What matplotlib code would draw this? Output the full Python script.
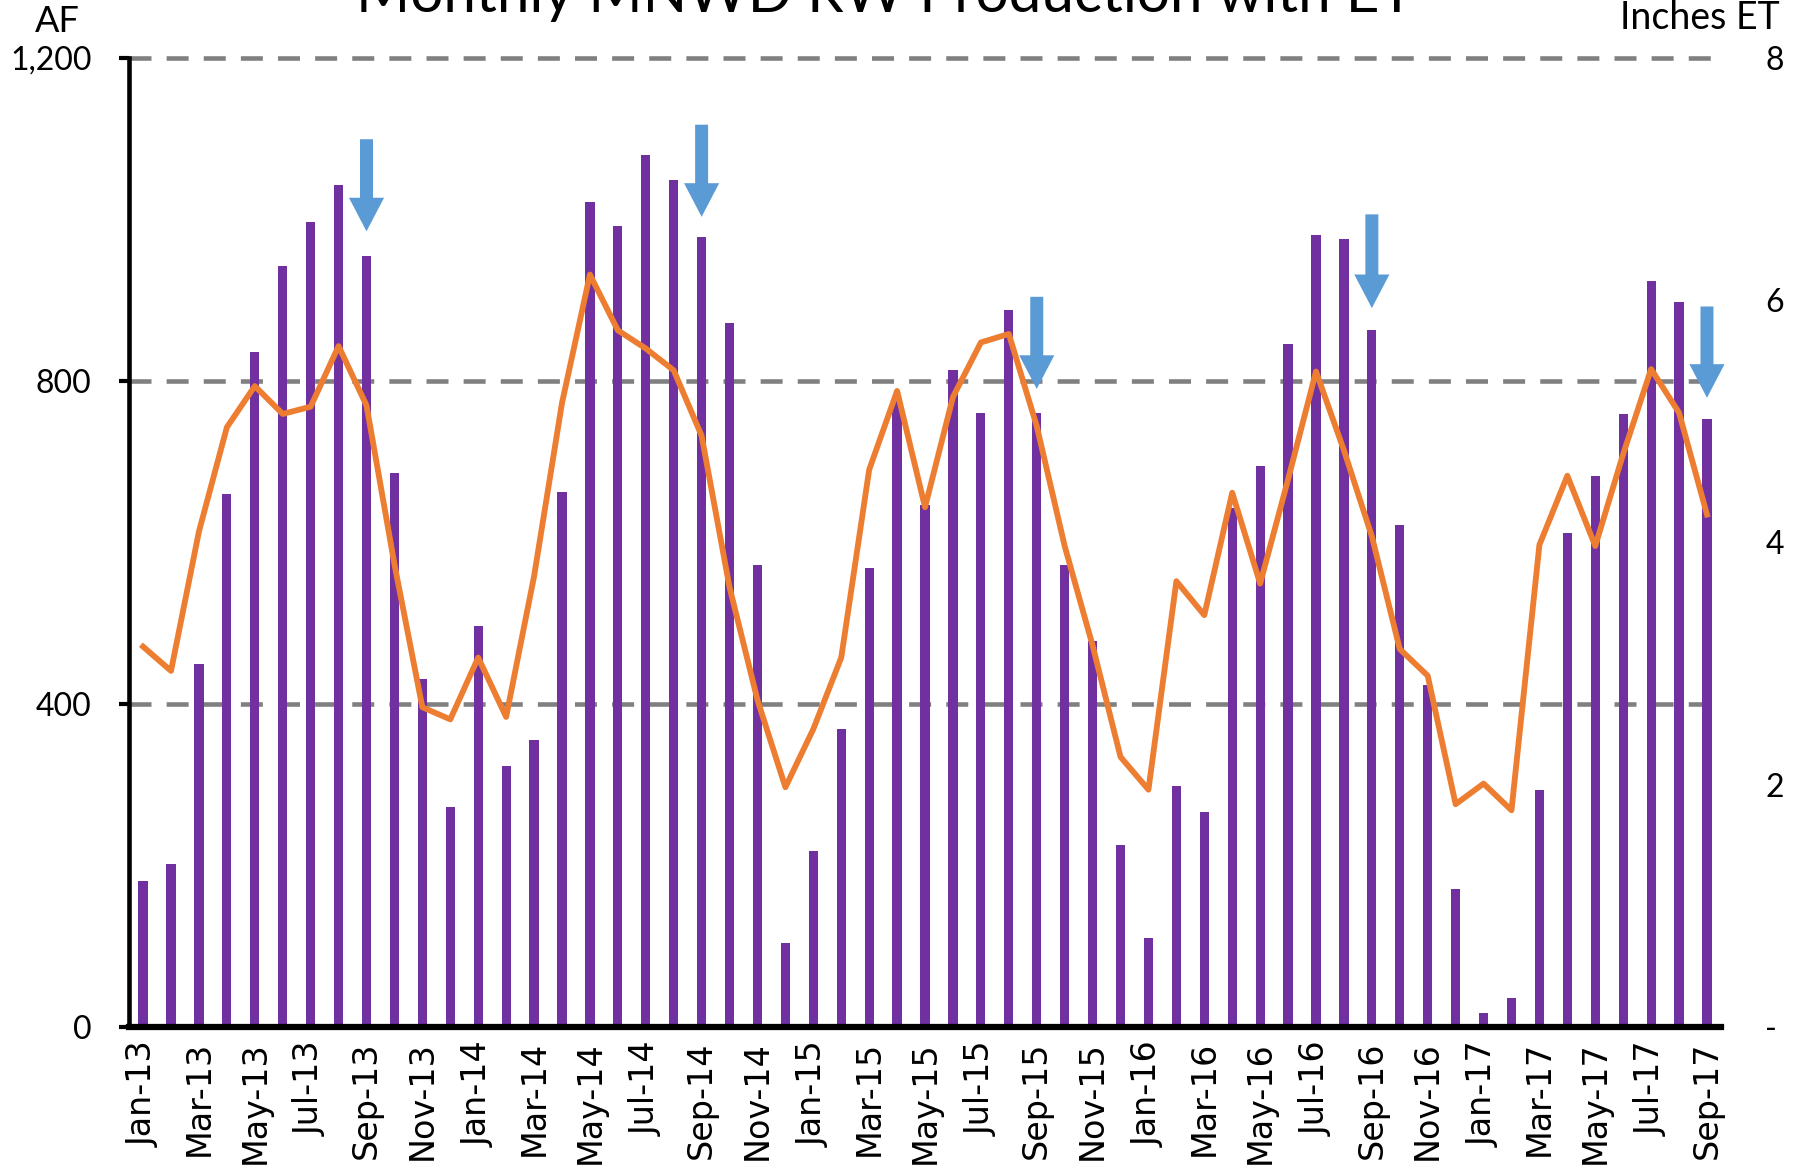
import numpy as np
import pandas as pd
import matplotlib
matplotlib.use('Agg')
import matplotlib.pyplot as plt
from matplotlib.ticker import FuncFormatter

# month labels Jan-13 .. Sep-17
months = pd.date_range('2013-01-01', '2017-09-01', freq='MS').strftime('%b-%y').tolist()

# monthly recycled water production (AF)
production_af = [181, 202, 450, 660, 836, 942, 996, 1042, 955, 686, 431, 273,
                 497, 323, 356, 663, 1021, 992, 1079, 1048, 978, 871, 572, 104,
                 218, 369, 568, 779, 646, 813, 760, 888, 760, 572, 478, 225,
                 111, 299, 266, 643, 695, 846, 981, 975, 863, 622, 424, 171,
                 18, 36, 293, 612, 682, 759, 924, 897, 753]

# monthly ET (inches)
et_inches = [3.14, 2.94, 4.09, 4.95, 5.29, 5.06, 5.12, 5.62, 5.13, 3.82, 2.64, 2.54,
             3.05, 2.56, 3.72, 5.15, 6.21, 5.75, 5.60, 5.42, 4.88, 3.63, 2.70, 1.98,
             2.46, 3.05, 4.60, 5.25, 4.29, 5.20, 5.65, 5.72, 4.96, 3.97, 3.15, 2.23,
             1.96, 3.68, 3.40, 4.41, 3.66, 4.52, 5.41, 4.76, 4.05, 3.12, 2.90, 1.84,
             2.01, 1.79, 3.98, 4.55, 3.97, 4.73, 5.43, 5.07, 4.23]

# blue arrows marking each September
arrow_months = ['Sep-13', 'Sep-14', 'Sep-15', 'Sep-16', 'Sep-17']
arrow_top = [1099, 1117, 904, 1006, 892]
arrow_tip = [985, 1003, 790, 890, 779]

af_ticks = [0, 400, 800, 1200]

PURPLE = '#7030A0'
ORANGE = '#ED7D31'
BLUE = '#5B9BD5'
GREY = '#808080'
LABEL_FONT = ['Lato', 'DejaVu Sans']

fig = plt.figure(figsize=(18.06, 11.69), dpi=100)
ax = fig.add_axes([0.0715, 0.1213, 0.8814, 0.8294])

x = np.arange(len(months))
ax.bar(x, production_af, width=0.33, color=PURPLE, zorder=2)
ax.set_xlim(-0.5, len(months) - 0.5)
ax.set_ylim(0, 1200)
ax.set_yticks(af_ticks)
ax.yaxis.set_major_formatter(FuncFormatter(lambda v, p: f'{v:,.0f}'))
# dashed gridlines (drawn by hand so the top one is not clipped)
for v in af_ticks[1:]:
    ax.axhline(v, color=GREY, lw=3.3, linestyle=(0, (4.8, 3.3)), zorder=1, clip_on=False)

for s in ['top', 'right']:
    ax.spines[s].set_visible(False)
ax.spines['left'].set_linewidth(3.3)
ax.spines['bottom'].set_linewidth(4.5)
ax.spines['bottom'].set_zorder(3)

ax.set_xticks(x[::2])
ax.set_xticklabels(months[::2], rotation=90, fontsize=24, family='DejaVu Sans')
ax.tick_params(axis='x', length=0, pad=10)
ax.tick_params(axis='y', length=7, width=3, pad=20)
for lab in ax.get_yticklabels():
    lab.set_family(LABEL_FONT)
    lab.set_fontsize(23)

ax2 = ax.twinx()
ax2.plot(x, et_inches, color=ORANGE, lw=4.2, solid_joinstyle='round', zorder=3)
ax2.set_ylim(0, 8)
ax2.set_yticks([0, 2, 4, 6, 8])
ax2.set_yticklabels(['-', '2', '4', '6', '8'], family=LABEL_FONT, fontsize=23)
ax2.tick_params(axis='y', length=0, pad=32)
for s in ax2.spines.values():
    s.set_visible(False)

for m, top, tip in zip(arrow_months, arrow_top, arrow_tip):
    xi = months.index(m)
    ax2.annotate('', xy=(xi, tip), xytext=(xi, top),
                 xycoords=ax.transData, textcoords=ax.transData,
                 arrowprops=dict(arrowstyle='simple,head_length=2.2,head_width=2.3,tail_width=0.85',
                                 color=BLUE, lw=0, shrinkA=0, shrinkB=0, mutation_scale=11),
                 zorder=5)

fig.text(0.4898, 0.990, 'Monthly MNWD RW Production with ET', ha='center', va='baseline',
         fontsize=42, family=LABEL_FONT)
fig.text(0.0319, 0.982, 'AF', ha='center', va='center', fontsize=26, family=LABEL_FONT)
fig.text(0.9853, 0.985, 'Inches ET', ha='right', va='center', fontsize=27, family=LABEL_FONT)

fig.savefig('out.png', dpi=100)
